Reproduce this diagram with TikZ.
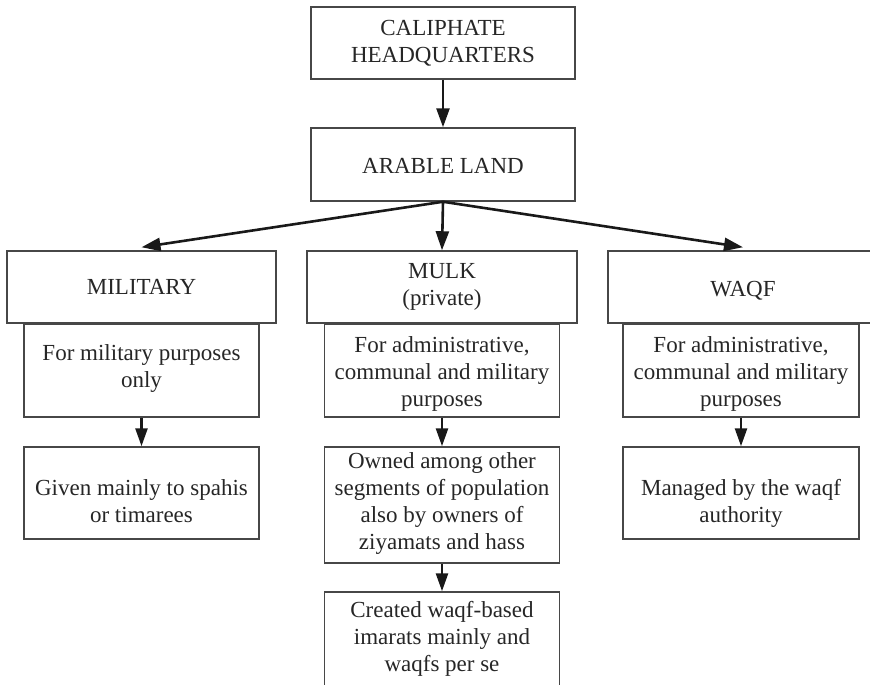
\documentclass[tikz,border=0pt]{standalone}
\usepackage{fontspec}
\setmainfont{Liberation Serif}
\usetikzlibrary{arrows.meta}
\begin{document}
\begin{tikzpicture}[x=1pt,y=-1pt,
  box/.style={draw=black!72, line width=1.5pt, inner sep=0pt},
  txt/.style={inner sep=0pt, align=center, text=black!85,
    font=\fontsize{23}{27}\selectfont},
  arr/.style={draw=black!90, line width=2.6pt,
    -{Triangle[length=19pt,width=13pt]}},
  sarr/.style={draw=black!90, line width=2.6pt,
    -{Triangle[length=18pt,width=12pt]}}]
\useasboundingbox (0,0) rectangle (870,685);
% boxes
\node[box, minimum width=264pt, minimum height=72pt] (hq) at (443,43) {};
\node[box, minimum width=264pt, minimum height=73pt] (arable) at (443,164.5) {};
\node[box, minimum width=269pt, minimum height=72pt] (mil) at (141.5,287) {};
\node[box, minimum width=270pt, minimum height=72pt] (mulk) at (442,287) {};
\node[box, minimum width=270pt, minimum height=72pt] (waqf) at (743,287) {};
\node[box, minimum width=235pt, minimum height=93pt] (milsub) at (141.5,370.5) {};
\node[box, minimum width=235pt, minimum height=92pt] (milgiven) at (141.5,493) {};
\node[box, minimum width=235pt, minimum height=93pt] (mulksub) at (442,370.5) {};
\node[box, minimum width=235pt, minimum height=116pt] (mulkowned) at (442,505) {};
\node[box, minimum width=235pt, minimum height=100pt] (mulkcreated) at (442,642) {};
\node[box, minimum width=236pt, minimum height=93pt] (waqfsub) at (741,370.5) {};
\node[box, minimum width=236pt, minimum height=92pt] (waqfman) at (741,493) {};
% texts (yshift is in page direction: negative moves down)
\node[txt] (hqt) at (hq.center) {CALIPHATE\\HEADQUARTERS};
\node[txt] (arablet) at ([yshift=-1pt]arable.center) {ARABLE LAND};
\node[txt] (milt) at (mil.center) {MILITARY};
\node[txt] (mulkt) at (mulk.center) {MULK\\(private)};
\node[txt] (waqft) at ([yshift=-4pt]waqf.center) {WAQF};
\node[txt] (milsubt) at ([yshift=2pt]milsub.center) {For military purposes\\only};
\node[txt] (milgivent) at ([yshift=-8pt]milgiven.center) {Given mainly to spahis\\or timarees};
\node[txt] (mulksubt) at ([yshift=-3pt]mulksub.center) {For administrative,\\communal and military\\purposes};
\node[txt] (mulkownedt) at ([yshift=2pt]mulkowned.center) {Owned among other\\segments of population\\also by owners of\\ziyamats and hass};
\node[txt] (mulkcreatedt) at ([yshift=3pt]mulkcreated.center) {Created waqf-based\\imarats mainly and\\waqfs per se};
\node[txt] (waqfsubt) at ([yshift=-3pt]waqfsub.center) {For administrative,\\communal and military\\purposes};
\node[txt] (waqfmant) at ([yshift=-10pt]waqfman.center) {Managed by the waqf\\authority};
% connectors
\draw[arr] (hq.south) -- (arable.north);
\draw[arr] (arable.south) -- ([yshift=3pt]mil.north);
\draw[arr] (arable.south) -- (mulk.north);
\draw[arr] (arable.south) -- ([yshift=3pt]waqf.north);
\draw[sarr] (milsub.south) -- (milgiven.north);
\draw[sarr] (mulksub.south) -- (mulkowned.north);
\draw[sarr] (mulkowned.south) -- (mulkcreated.north);
\draw[sarr] (waqfsub.south) -- (waqfman.north);
\end{tikzpicture}
\end{document}
